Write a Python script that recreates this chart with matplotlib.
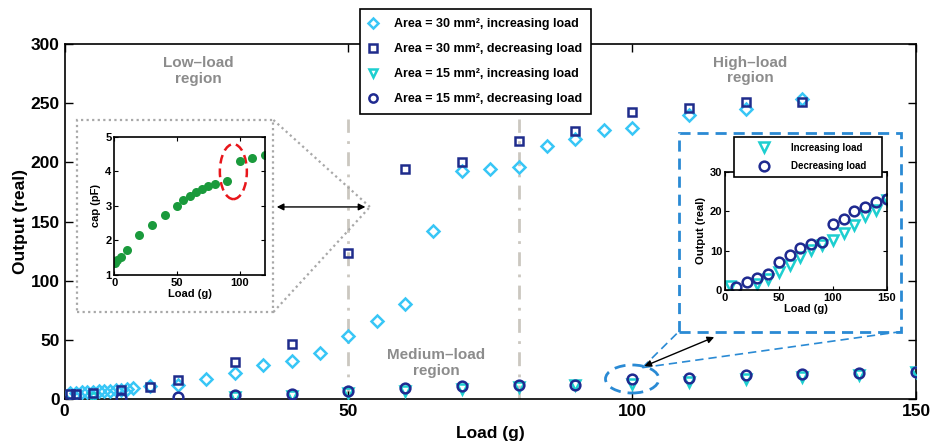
import matplotlib
matplotlib.use('Agg')
import matplotlib.pyplot as plt
from matplotlib.patches import Ellipse, Rectangle

plt.rcParams['font.family'] = ['Liberation Sans', 'DejaVu Sans']
plt.rcParams['font.weight'] = 'bold'
plt.rcParams['axes.labelweight'] = 'bold'

# ---------------- data ----------------
load_30_inc = [1, 2, 3, 4, 5, 6, 7, 8, 9, 10, 11, 12, 15, 20, 25, 30, 35, 40, 45, 50,
               55, 60, 65, 70, 75, 80, 85, 90, 95, 100, 110, 120, 130]
out_30_inc = [5.0, 5.4, 5.8, 6.0, 6.3, 6.5, 6.8, 7.0, 7.3, 7.6, 8.2, 9.0, 11.0, 11.8, 16.6,
              21.7, 28.7, 32.4, 38.6, 53.0, 66.0, 80.0, 142.0, 193.0, 194.0, 196.4, 214.0,
              220.0, 227.4, 229.4, 240.0, 245.0, 253.3]

load_30_dec = [1, 2, 5, 10, 15, 20, 30, 40, 50, 60, 70, 80, 90, 100, 110, 120, 130]
out_30_dec = [4.0, 4.2, 4.8, 7.6, 10.4, 16.0, 31.0, 46.2, 123.4, 194.0, 200.6, 218.0,
              226.8, 242.9, 246.0, 251.3, 251.3]

load_15_inc = [5, 30, 40, 50, 60, 70, 80, 90, 100, 110, 120, 130, 140, 150]
out_15_inc = [0.9, 1.5, 2.8, 4.7, 6.4, 8.5, 10.2, 11.5, 12.8, 14.5, 16.6, 18.7, 20.4, 23.0]

load_15_dec = [10, 20, 30, 40, 50, 60, 70, 80, 90, 100, 110, 120, 130, 140, 150]
out_15_dec = [0.85, 2.0, 3.0, 4.0, 7.1, 8.9, 10.6, 11.7, 12.1, 16.8, 18.0, 20.1, 21.1, 22.3, 23.2]

cap_load = [0.5, 2, 5, 10, 20, 30, 40, 50, 55, 60, 65, 70, 75, 80, 90, 100, 110, 120]
cap_pf = [1.36, 1.43, 1.53, 1.72, 2.17, 2.45, 2.74, 3.00, 3.17, 3.29, 3.41, 3.50, 3.57,
          3.63, 3.73, 4.31, 4.39, 4.46]

legend_labels = ['Area = 30 mm\u00b2, increasing load',
                 'Area = 30 mm\u00b2, decreasing load',
                 'Area = 15 mm\u00b2, increasing load',
                 'Area = 15 mm\u00b2, decreasing load']

c_dia = '#38c6f6'
c_sq = '#1f2c8c'
c_tri = '#1dcfd0'
c_circ = '#1f2a90'
c_gray_txt = '#8c8c8c'

W, H = 930, 441
fig = plt.figure(figsize=(W / 100, H / 100), dpi=100)


def fx(px):
    return px / W


def fy(py):
    return 1 - py / H


ax = fig.add_axes([fx(64.5), fy(399), fx(916) - fx(64.5), fy(44) - fy(399)])

# region separator lines
for xv in [50, 80]:
    ax.plot([xv, xv], [0, 237], color='#cbc7c0', lw=2, ls=(0, (5, 3, 1, 3)), zorder=1)

ms_kw = dict(ls='none', mfc='none', mew=1.8)
ax.plot(load_30_inc, out_30_inc, marker='D', ms=6.5, mec=c_dia, label=legend_labels[0], zorder=3, **ms_kw)
ax.plot(load_30_dec, out_30_dec, marker='s', ms=6, mec=c_sq, label=legend_labels[1], zorder=4, **ms_kw)
ax.plot(load_15_inc, out_15_inc, marker='v', ms=7.5, mec=c_tri, label=legend_labels[2], zorder=3, **ms_kw)
ax.plot(load_15_dec, out_15_dec, marker='o', ms=7, mec=c_circ, label=legend_labels[3], zorder=4, **ms_kw)

ax.set_xlim(0, 150)
ax.set_ylim(0, 300)
ax.set_xticks([0, 50, 100, 150])
ax.set_yticks([0, 50, 100, 150, 200, 250, 300])
ax.tick_params(direction='in', top=True, right=True, labelsize=12.5, length=6, width=1)
for lab in ax.get_xticklabels() + ax.get_yticklabels():
    lab.set_fontweight('bold')
ax.set_xlabel('Load (g)', fontsize=12.5, labelpad=5)
ax.set_ylabel('Output (real)', fontsize=12.5, labelpad=2)
for sp in ax.spines.values():
    sp.set_linewidth(1.2)

leg = ax.legend(loc='upper left', bbox_to_anchor=(fx(360), fy(9.3)),
                bbox_transform=fig.transFigure, borderaxespad=0, fancybox=False,
                edgecolor='black', framealpha=1, prop={'size': 9, 'weight': 'bold'},
                handlelength=0.6, handletextpad=1.45, labelspacing=1.05, borderpad=0.7,
                markerscale=0.85)
leg.get_frame().set_linewidth(1.2)
leg.set_zorder(10)

# region texts
ax.text(23.5, 277, 'Low\u2013load\nregion', ha='center', va='center', color=c_gray_txt,
        fontsize=11, fontweight='bold', linespacing=1.15)
ax.text(120.8, 277.5, 'High\u2013load\nregion', ha='center', va='center', color=c_gray_txt,
        fontsize=11, fontweight='bold', linespacing=1.15)
ax.text(65.5, 30.4, 'Medium\u2013load\nregion', ha='center', va='center', color=c_gray_txt,
        fontsize=11, fontweight='bold', linespacing=1.15)

# left inset: dotted box, lines, arrow
ax.add_patch(Rectangle((2.15, 73.5), 36.8 - 2.15, 235.8 - 73.5, fill=False,
                       ec='#a8a8a8', lw=1.6, ls=(0, (1, 1.5)), zorder=2))
ax.plot([36.8, 53.8], [235.8, 162.3], color='#a8a8a8', lw=1.6, ls=(0, (1, 1.5)), zorder=2)
ax.plot([36.8, 53.8], [73.5, 162.3], color='#a8a8a8', lw=1.6, ls=(0, (1, 1.5)), zorder=2)
ax.annotate('', xy=(53.5, 162.3), xytext=(36.9, 162.3),
            arrowprops=dict(arrowstyle='<|-|>', color='black', lw=1, mutation_scale=10), zorder=6)

# right inset: dashed box, ellipse, lines, arrow
c_blue = '#2a8ad4'
ax.add_patch(Rectangle((108.2, 56.9), 147.3 - 108.2, 225 - 56.9, fill=False,
                       ec=c_blue, lw=2, ls=(0, (4, 2.5)), zorder=2))
ax.add_patch(Ellipse((100, 16.9), 9.4, 23.7, fill=False, ec=c_blue, lw=2,
                     ls=(0, (4, 2.5)), zorder=5))
ax.plot([101.8, 108.2], [26.5, 56.9], color=c_blue, lw=1.2, ls=(0, (5, 3)), zorder=2)
ax.plot([101.8, 147.3], [26.5, 56.9], color=c_blue, lw=1.2, ls=(0, (5, 3)), zorder=2)
ax.annotate('', xy=(114.9, 53.2), xytext=(101.7, 26.8),
            arrowprops=dict(arrowstyle='<|-|>', color='black', lw=1, mutation_scale=10), zorder=6)

# ---------------- left inset ----------------
axl = fig.add_axes([fx(114.3), fy(275), fx(265) - fx(114.3), fy(136.7) - fy(275)])
axl.plot(cap_load, cap_pf, 'o', color='#1a9a3c', ms=6.5, mec='none')
axl.set_xlim(0, 120)
axl.set_ylim(1, 5)
axl.set_xticks([0, 50, 100])
axl.set_yticks([1, 2, 3, 4, 5])
axl.tick_params(direction='in', top=True, right=True, labelsize=8, length=3, pad=2)
for lab in axl.get_xticklabels() + axl.get_yticklabels():
    lab.set_fontweight('bold')
axl.set_xlabel('Load (g)', fontsize=8, labelpad=1)
axl.set_ylabel('cap (pF)', fontsize=8, labelpad=3)
axl.add_patch(Ellipse((94.8, 3.99), 21.5, 1.59, angle=0, fill=False, ec='#e8161b', lw=1.8,
                      ls=(0, (3.5, 2))))
for sp in axl.spines.values():
    sp.set_linewidth(1.2)

# ---------------- right inset ----------------
axr = fig.add_axes([fx(725), fy(290), fx(886.7) - fx(725), fy(172) - fy(290)])
axr.plot(load_15_inc, out_15_inc, marker='v', ms=7.5, mec=c_tri, label='Increasing load', **ms_kw)
axr.plot(load_15_dec, out_15_dec, marker='o', ms=7, mec=c_circ, label='Decreasing load', **ms_kw)
axr.set_xlim(0, 150)
axr.set_ylim(0, 30)
axr.set_xticks([0, 50, 100, 150])
axr.set_yticks([0, 10, 20, 30])
axr.tick_params(direction='in', top=True, right=True, labelsize=8, length=3, pad=2)
for lab in axr.get_xticklabels() + axr.get_yticklabels():
    lab.set_fontweight('bold')
axr.set_xlabel('Load (g)', fontsize=8, labelpad=1)
axr.set_ylabel('Output (real)', fontsize=8, labelpad=3)
for sp in axr.spines.values():
    sp.set_linewidth(1.2)
legr = axr.legend(loc='upper left',
                  bbox_to_anchor=(fx(734), fy(176.7), fx(881.7) - fx(734), fy(136.7) - fy(176.7)),
                  bbox_transform=fig.transFigure, borderaxespad=0, fancybox=False, mode='expand',
                  edgecolor='black', framealpha=1, prop={'size': 7, 'weight': 'bold'},
                  handlelength=5.0, handletextpad=0.3, labelspacing=0.9, borderpad=0.6)
legr.get_frame().set_linewidth(1.2)

fig.savefig('out.png', dpi=100)
